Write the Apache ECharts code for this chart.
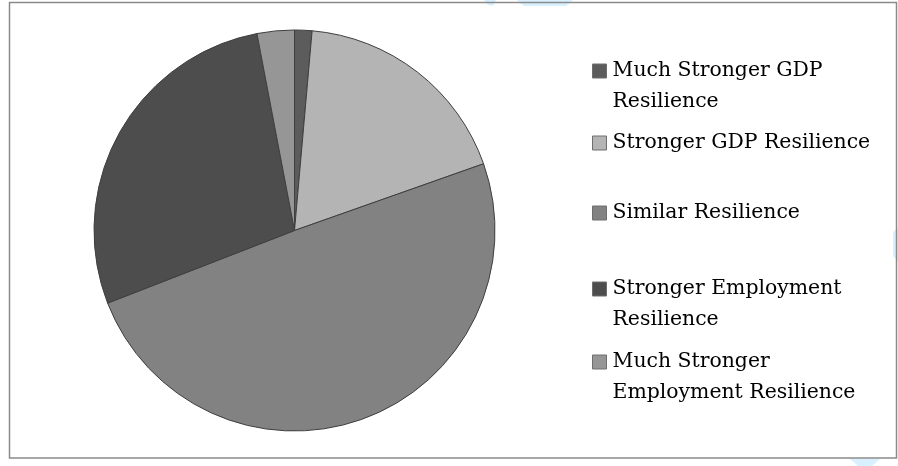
<!DOCTYPE html>
<html>
<head>
<meta charset="utf-8">
<script src="https://cdn.jsdelivr.net/npm/echarts@6/dist/echarts.min.js"></script>
<style>
  html, body { margin: 0; padding: 0; background: #ffffff; }
  #chart { width: 898px; height: 466px; }
</style>
</head>
<body>
<div id="chart"></div>
<script>
// Share of cases by type of relative resilience (percent)
const categories = [
  'Much Stronger GDP Resilience',
  'Stronger GDP Resilience',
  'Similar Resilience',
  'Stronger Employment Resilience',
  'Much Stronger Employment Resilience'
];
const shares = [1.4, 18.2, 49.5, 27.9, 3.0];
// Legend text as wrapped in the key
const legendLines = [
  ['Much Stronger GDP', 'Resilience'],
  ['Stronger GDP Resilience'],
  ['Similar Resilience'],
  ['Stronger Employment', 'Resilience'],
  ['Much Stronger', 'Employment Resilience']
];
const sliceColors = ['#5c5c5c', '#b4b4b4', '#828282', '#4d4d4d', '#969696'];
// Vertical centre of each key entry's first line
const legendTops = [71, 143, 213, 289, 362];

const chart = echarts.init(document.getElementById('chart'), null, { renderer: 'canvas' });

const lineH = 31;
const swatch = 14;
const legends = categories.map((name, i) => {
  const lines = legendLines[i];
  // Pad multi-line entries with a blank first line so the swatch sits beside the first text line
  const padded = lines.length > 1 ? ['', ...lines] : lines;
  const blockH = padded.length * lineH;
  return {
    data: [name],
    orient: 'vertical',
    left: 592,
    top: legendTops[i] - blockH / 2,
    padding: 0,
    itemWidth: swatch,
    itemHeight: swatch,
    itemGap: 0,
    icon: 'rect',
    selectedMode: false,
    itemStyle: { borderColor: '#6e6e6e', borderWidth: 1 },
    formatter: () => padded.join('\n'),
    textStyle: {
      fontFamily: 'DejaVu Serif',
      fontSize: 20.4,
      color: '#000000',
      lineHeight: lineH,
      padding: [0, 0, 0, 1]
    }
  };
});

chart.setOption({
  animation: false,
  backgroundColor: '#ffffff',
  color: sliceColors,
  legend: legends,
  graphic: [
    {
      type: 'rect',
      shape: { x: 9.5, y: 2.5, width: 887, height: 455.5 },
      style: { fill: 'none', stroke: '#8a8a8a', lineWidth: 1.5 },
      z: 0
    },
    {
      type: 'polygon',
      shape: { points: [[484, 0], [496, 0], [493, 6], [488, 5]] },
      style: { fill: '#d9f1ff' },
      z: -1
    },
    {
      type: 'polygon',
      shape: { points: [[517, 0], [573, 0], [566, 6], [524, 6]] },
      style: { fill: '#d9f1ff' },
      z: -1
    },
    {
      type: 'polygon',
      shape: { points: [[893, 232], [898, 228], [898, 262], [893, 256]] },
      style: { fill: '#d9f1ff' },
      z: -1
    },
    {
      type: 'polygon',
      shape: { points: [[850, 459], [880, 459], [872, 466], [858, 466]] },
      style: { fill: '#d9f1ff' },
      z: -1
    }
  ],
  series: [
    {
      type: 'pie',
      center: [294.5, 230.5],
      radius: 200.5,
      startAngle: 90,
      clockwise: true,
      label: { show: false },
      labelLine: { show: false },
      emphasis: { disabled: true },
      itemStyle: { borderColor: '#3f3f3f', borderWidth: 1 },
      data: categories.map((name, i) => ({ name, value: shares[i] }))
    }
  ]
});
</script>
</body>
</html>
